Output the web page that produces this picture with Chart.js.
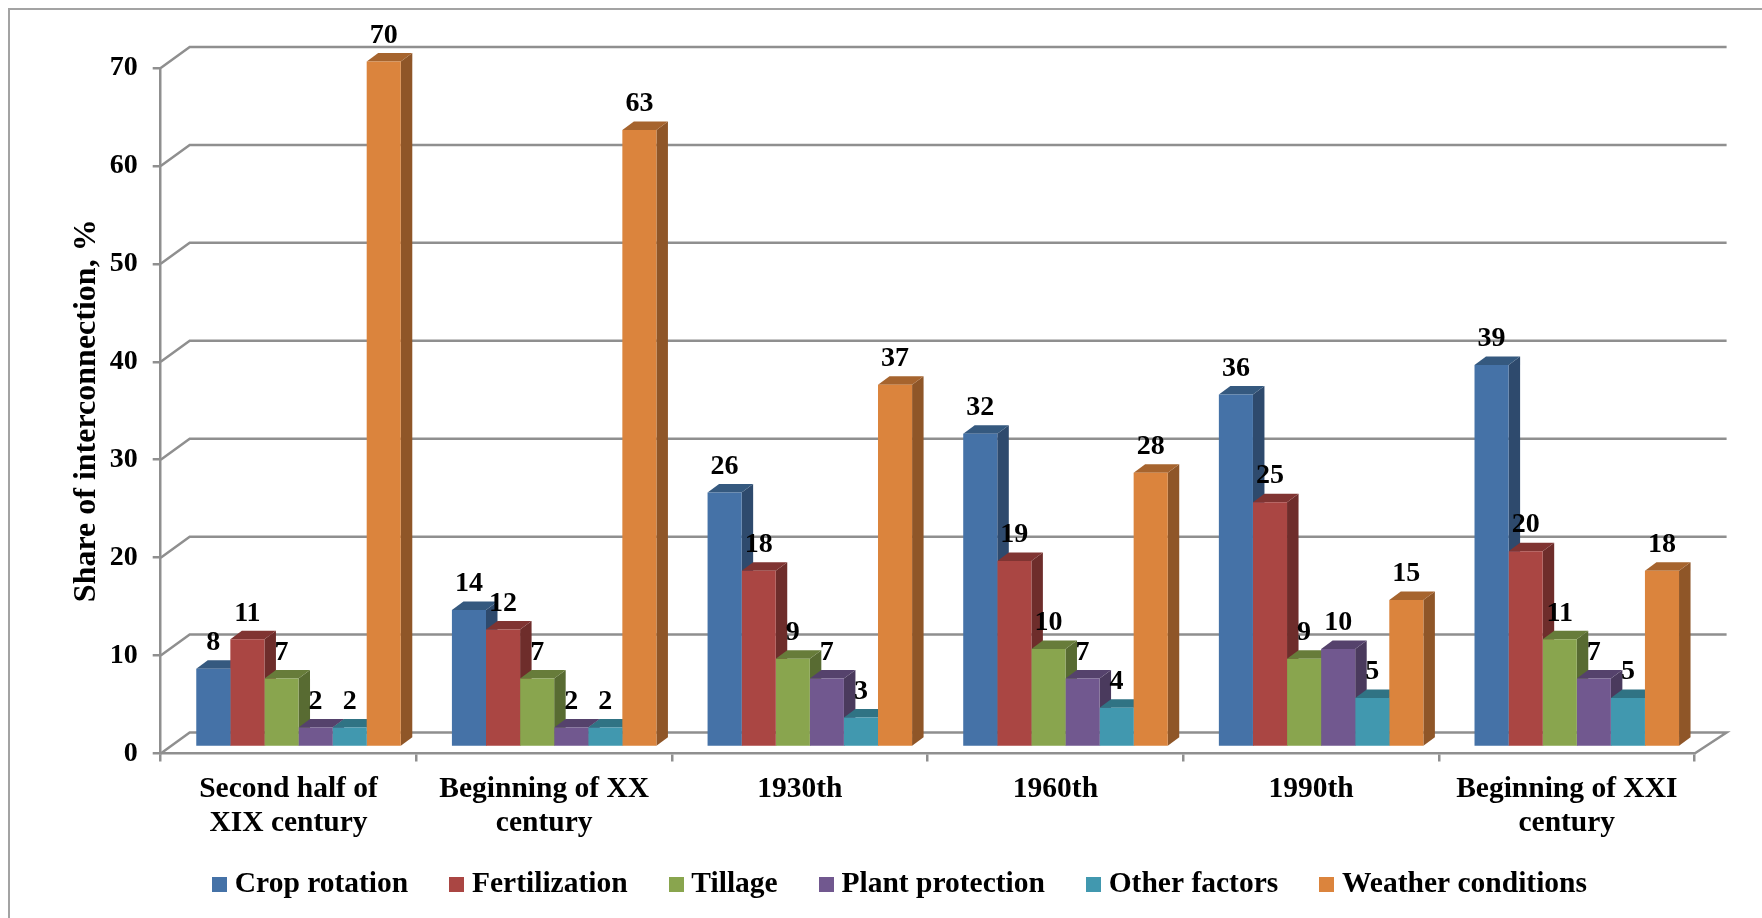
<!DOCTYPE html>
<html>
<head>
<meta charset="utf-8">
<title>Share of interconnection</title>
<script src="https://cdn.jsdelivr.net/npm/chart.js@4"></script>
<style>
    html, body { margin: 0; padding: 0; background: #fff; }
    canvas { display: block; }
</style>
</head>
<body>
<canvas id="chart" width="1762" height="918"></canvas>
<script>
const categories = [
    ['Second half of', 'XIX century'],
    ['Beginning of XX', 'century'],
    '1930th',
    '1960th',
    '1990th',
    ['Beginning of XXI', 'century']
];
const seriesNames = ['Crop rotation', 'Fertilization', 'Tillage', 'Plant protection', 'Other factors', 'Weather conditions'];
const cropRotation = [8, 14, 26, 32, 36, 39];
const fertilization = [11, 12, 18, 19, 25, 20];
const tillage = [7, 7, 9, 10, 9, 11];
const plantProtection = [2, 2, 7, 7, 10, 7];
const otherFactors = [2, 2, 3, 4, 5, 5];
const weatherConditions = [70, 63, 37, 28, 15, 18];
const seriesValues = [cropRotation, fertilization, tillage, plantProtection, otherFactors, weatherConditions];

const frontColors = ['#4572a7', '#aa4643', '#89a54e', '#71588f', '#4198af', '#db843d'];
const topColors   = ['#35597f', '#803432', '#677c3a', '#55426c', '#307384', '#a6642e'];
const sideColors  = ['#2e4a6d', '#6e2d2b', '#586b32', '#4a3a5d', '#2a6372', '#8f5628'];

const FONT = "'Liberation Serif', serif";
const AXIS = '#8f8f8f';

// 3D look: the library has no 3D bars, so faces are added around its own bars
const BAR_SHIFT = { x: 10, y: -6.5 };
const BAR_DEPTH = { x: 11.5, y: -8.5 };
const WALL = { left: 29, right: 32, y: -21 };

// legend swatch as an image, the text gap is tighter than the default box gives
function swatch(color) {
    const c = document.createElement('canvas');
    c.width = 15;
    c.height = 15;
    const g = c.getContext('2d');
    g.fillStyle = color;
    g.fillRect(0, 0, 15, 15);
    return c;
}

const depth3d = {
    id: 'depth3d',
    afterLayout(chart) {
        // the x scale clips its labels at its own bottom, let it run under the legend box
        chart.scales.x.bottom += 41;
    },
    beforeDraw(chart) {
        const { ctx, chartArea: a, scales: { y } } = chart;
        ctx.save();
        // outer frame, only left and top show in the picture
        ctx.strokeStyle = '#a3a3a3';
        ctx.lineWidth = 2;
        ctx.beginPath();
        ctx.moveTo(9, 918);
        ctx.lineTo(9, 9);
        ctx.lineTo(1762, 9);
        ctx.stroke();
        // back wall lines and the diagonals running to the axis
        ctx.strokeStyle = AXIS;
        ctx.lineWidth = 2.5;
        y.ticks.forEach(t => {
            const py = y.getPixelForValue(t.value);
            ctx.beginPath();
            ctx.moveTo(a.left, py);
            ctx.lineTo(a.left + WALL.left, py + WALL.y);
            ctx.lineTo(a.right + WALL.right, py + WALL.y);
            if (t.value === 0) ctx.lineTo(a.right, py);
            ctx.stroke();
        });
        ctx.restore();
    },
    beforeDatasetsDraw(chart) {
        const { ctx } = chart;
        ctx.save();
        ctx.translate(BAR_SHIFT.x, BAR_SHIFT.y);
        // sides and tops go left to right, the fronts then cover them
        categories.forEach((_, i) => {
            seriesValues.forEach((_, s) => {
                const b = chart.getDatasetMeta(s).data[i];
                const left = b.x - b.width / 2, right = b.x + b.width / 2;
                ctx.fillStyle = sideColors[s];
                ctx.beginPath();
                ctx.moveTo(right, b.y);
                ctx.lineTo(right + BAR_DEPTH.x, b.y + BAR_DEPTH.y);
                ctx.lineTo(right + BAR_DEPTH.x, b.base + BAR_DEPTH.y);
                ctx.lineTo(right, b.base);
                ctx.closePath();
                ctx.fill();
                ctx.fillStyle = topColors[s];
                ctx.beginPath();
                ctx.moveTo(left, b.y);
                ctx.lineTo(left + BAR_DEPTH.x, b.y + BAR_DEPTH.y);
                ctx.lineTo(right + BAR_DEPTH.x, b.y + BAR_DEPTH.y);
                ctx.lineTo(right, b.y);
                ctx.closePath();
                ctx.fill();
            });
        });
    },
    afterDatasetsDraw(chart) {
        const { ctx } = chart;
        ctx.restore();
        // value labels
        ctx.save();
        ctx.fillStyle = '#000';
        ctx.font = 'bold 28px ' + FONT;
        ctx.textAlign = 'center';
        ctx.textBaseline = 'middle';
        seriesValues.forEach((values, s) => {
            chart.getDatasetMeta(s).data.forEach((b, i) => {
                ctx.fillText(values[i], b.x + BAR_SHIFT.x, b.y + BAR_SHIFT.y - 26);
            });
        });
        ctx.restore();
    }
};

new Chart(document.getElementById('chart'), {
    type: 'bar',
    data: {
        labels: categories,
        datasets: seriesNames.map((name, s) => ({
            label: name,
            data: seriesValues[s],
            backgroundColor: frontColors[s],
            categoryPercentage: 0.8,
            barPercentage: 1,
            clip: false
        }))
    },
    options: {
        responsive: false,
        animation: false,
        layout: { padding: { left: 44, right: 0, top: 68, bottom: 8.7 } },
        plugins: {
            title: { display: false },
            tooltip: { enabled: false },
            legend: {
                position: 'bottom',
                labels: {
                    color: '#000',
                    font: { family: FONT, size: 29.5, weight: 'bold' },
                    usePointStyle: true,
                    pointStyleWidth: 1,
                    boxHeight: 15,
                    padding: 48,
                    generateLabels: chart => Chart.defaults.plugins.legend.labels.generateLabels(chart)
                        .map((item, s) => ({ ...item, pointStyle: swatch(frontColors[s]) }))
                }
            }
        },
        scales: {
            x: {
                afterFit: s => { s.height = 68.3; },
                grid: { drawOnChartArea: false, drawTicks: true, tickLength: 8, color: AXIS, lineWidth: 2.5 },
                border: { color: AXIS, width: 2.5 },
                ticks: {
                    color: '#000',
                    maxRotation: 0,
                    padding: 11,
                    font: { family: FONT, size: 29.5, weight: 'bold', lineHeight: 1.14 }
                }
            },
            y: {
                min: 0,
                max: 70,
                afterFit: s => { s.width = 116.7; },
                grid: { drawOnChartArea: false, drawTicks: true, tickLength: 8, color: AXIS, lineWidth: 2.5 },
                border: { color: AXIS, width: 2.5 },
                ticks: {
                    stepSize: 10,
                    color: '#000',
                    padding: 15,
                    font: { family: FONT, size: 28, weight: 'bold' }
                },
                title: {
                    display: true,
                    text: 'Share of interconnection, %',
                    color: '#000',
                    padding: { top: 24, bottom: 0 },
                    font: { family: FONT, size: 32, weight: 'bold' }
                }
            },
            // empty axis, only holds the room to the right of the plot
            spacer: {
                position: 'right',
                afterFit: s => { s.width = 67.4; },
                grid: { display: false },
                border: { display: false },
                ticks: { display: false }
            }
        }
    },
    plugins: [depth3d]
});
</script>
</body>
</html>
